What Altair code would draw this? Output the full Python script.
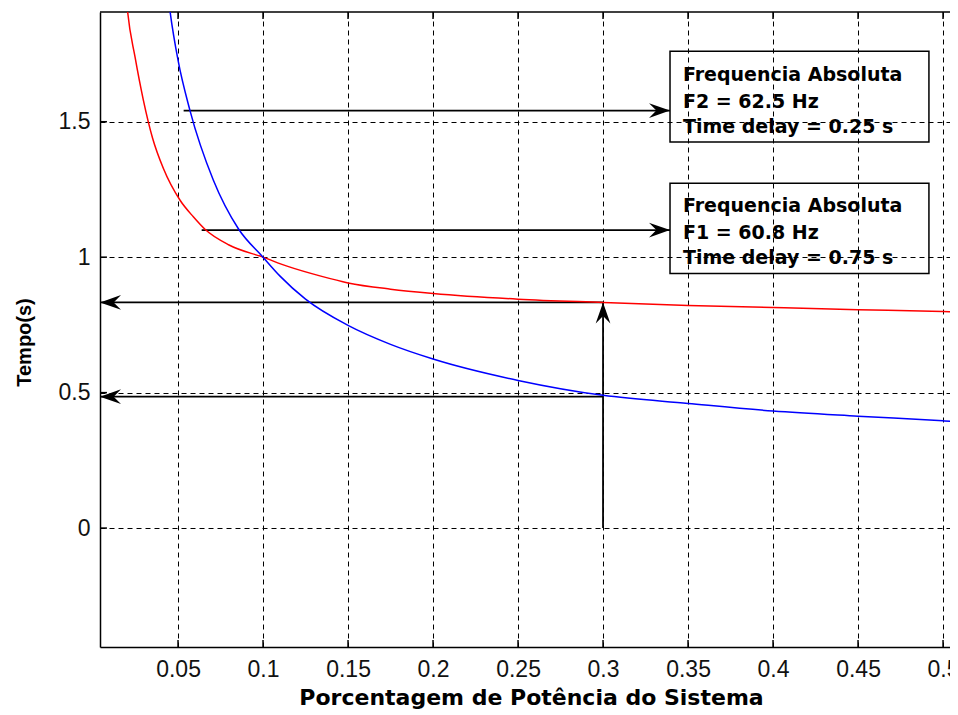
import altair as alt
import pandas as pd

# ---- data ----
x_red = [0.019, 0.0204, 0.0247, 0.0296, 0.035, 0.0414, 0.0512, 0.059, 0.066, 0.08, 0.1,
         0.115, 0.134, 0.15, 0.175, 0.2, 0.25, 0.3, 0.35, 0.4, 0.45, 0.5, 0.51]
y_red = [2.0, 1.903, 1.739, 1.58, 1.44, 1.327, 1.21, 1.149, 1.102, 1.045, 1.0,
         0.965, 0.93, 0.905, 0.882, 0.866, 0.845, 0.833, 0.822, 0.814, 0.806, 0.799, 0.797]

x_blue = [0.0435, 0.0454, 0.05, 0.057, 0.0708, 0.0855, 0.1, 0.11, 0.125, 0.15, 0.175, 0.2,
          0.25, 0.3, 0.35, 0.4, 0.45, 0.5, 0.51]
y_blue = [2.0, 1.903, 1.727, 1.542, 1.284, 1.105, 1.0, 0.93, 0.845, 0.748, 0.678, 0.624,
          0.545, 0.49, 0.46, 0.432, 0.413, 0.396, 0.392]

x_ticks = [0.05, 0.1, 0.15, 0.2, 0.25, 0.3, 0.35, 0.4, 0.45, 0.5]
y_ticks = [0, 0.5, 1, 1.5]
x_domain = [0.0041, 0.5088]
y_domain = [-0.439, 1.905]

arrow_x = [0.0533, 0.0639, 0.3, 0.3, 0.3]
arrow_y = [1.541, 1.10, 0.833, 0.485, 0.0]
arrow_x2 = [0.3394, 0.3394, 0.0041, 0.0041, 0.3]
arrow_y2 = [1.541, 1.10, 0.833, 0.485, 0.833]
arrow_angle = [0, 0, 180, 180, 270]

box_x = [0.3394, 0.3394]
box_x2 = [0.4917, 0.4917]
box_y = [1.4255, 0.94]
box_y2 = [1.760, 1.273]

text_lines = ["Frequencia Absoluta", "F2 = 62.5 Hz", "Time delay = 0.25 s",
              "Frequencia Absoluta", "F1 = 60.8 Hz", "Time delay = 0.75 s"]
text_y = [1.6716, 1.573, 1.480, 1.189, 1.0897, 0.996]
text_x = [0.347] * 6

# ---- tables ----
red_df = pd.DataFrame({"x": x_red, "y": y_red})
blue_df = pd.DataFrame({"x": x_blue, "y": y_blue})
arrow_df = pd.DataFrame({"x": arrow_x, "y": arrow_y, "x2": arrow_x2, "y2": arrow_y2,
                         "angle": arrow_angle})
box_df = pd.DataFrame({"x": box_x, "x2": box_x2, "y": box_y, "y2": box_y2})
text_df = pd.DataFrame({"x": text_x, "y": text_y, "t": text_lines})

tick_len_y = 0.026
tick_len_x = 0.0041
tick_rows = []
for t in x_ticks:
    tick_rows.append({"x": t, "x2": t, "y": y_domain[0], "y2": y_domain[0] + tick_len_y})
    tick_rows.append({"x": t, "x2": t, "y": y_domain[1], "y2": y_domain[1] - tick_len_y})
for t in y_ticks:
    tick_rows.append({"x": x_domain[0], "x2": x_domain[0] + tick_len_x, "y": t, "y2": t})
tick_rows.append({"x": x_domain[0], "x2": x_domain[1], "y": y_domain[1], "y2": y_domain[1]})
tick_df = pd.DataFrame(tick_rows)

# plot area continues past the right edge of the picture, as in the reference
xs = alt.Scale(domain=x_domain, range=[0, 858], nice=False, zero=False)
ys = alt.Scale(domain=y_domain, nice=False, zero=False)

xaxis = alt.Axis(values=x_ticks, format="~g", grid=True, gridColor="black",
                 gridDash=[5, 4], gridWidth=1, gridOpacity=1, ticks=False,
                 domain=True, domainColor="black", domainWidth=1.5,
                 labelFont="Liberation Sans", labelFontSize=23, labelColor="#111111",
                 labelPadding=11, labelFlush=False, labelOverlap=False,
                 title="Porcentagem de Potência do Sistema", titleFont="DejaVu Sans",
                 titleFontWeight="bold", titleFontSize=22, titleColor="black",
                 titleX=431, titleY=40, titleBaseline="top", titleAlign="center")
yaxis = alt.Axis(values=y_ticks, format="~g", grid=True, gridColor="black",
                 gridDash=[5, 4], gridWidth=1, gridOpacity=1, ticks=False,
                 domain=True, domainColor="black", domainWidth=1.5,
                 labelFont="Liberation Sans", labelFontSize=23, labelColor="#111111",
                 labelPadding=10, labelFlush=False, labelOverlap=False,
                 title="Tempo(s)", titleFont="Liberation Sans", titleFontWeight="bold",
                 titleFontSize=20, titleColor="black", titleAngle=270,
                 titleX=-76, titleY=330, titleAlign="center", titleBaseline="middle")


def X(f):
    return alt.X(f, type="quantitative", scale=xs, axis=xaxis)


def Y(f):
    return alt.Y(f, type="quantitative", scale=ys, axis=yaxis)


ticks = alt.Chart(tick_df).mark_rule(color="black", strokeWidth=1.5).encode(
    x=X("x"), x2="x2", y=Y("y"), y2="y2")

arrow_lines = alt.Chart(arrow_df).mark_rule(color="black", strokeWidth=1.8).encode(
    x=X("x"), x2="x2", y=Y("y"), y2="y2")

head_path = "M0,0 L-2,-0.7 L-1.3,0 L-2,0.7 Z"
arrow_heads = alt.Chart(arrow_df).mark_point(
    shape=head_path, filled=True, size=441, color="black", opacity=1, strokeWidth=0
).encode(x=X("x2"), y=Y("y2"), angle=alt.Angle("angle:Q", scale=None))

red_line = alt.Chart(red_df).mark_line(color="#ff0000", strokeWidth=1.5, clip=True,
                                        interpolate="monotone").encode(x=X("x"), y=Y("y"))
blue_line = alt.Chart(blue_df).mark_line(color="#0000ff", strokeWidth=1.5, clip=True,
                                          interpolate="monotone").encode(x=X("x"), y=Y("y"))

boxes = alt.Chart(box_df).mark_rect(fillOpacity=0, stroke="black", strokeWidth=1.5).encode(
    x=X("x"), x2="x2", y=Y("y"), y2="y2")

texts = alt.Chart(text_df).mark_text(align="left", baseline="middle", font="DejaVu Sans",
                                     fontWeight="bold", fontSize=19, color="black").encode(
    x=X("x"), y=Y("y"), text="t:N")

chart = alt.layer(ticks, arrow_lines, red_line, blue_line, arrow_heads, boxes, texts).properties(
    width=850, height=635,
    autosize=alt.AutoSizeParams(type="none"),
    padding={"left": 92, "top": 4, "right": 0, "bottom": 63},
    background="white",
).configure_view(stroke="transparent")

chart.save("out.html", embed_options={"renderer": "svg", "actions": False})
